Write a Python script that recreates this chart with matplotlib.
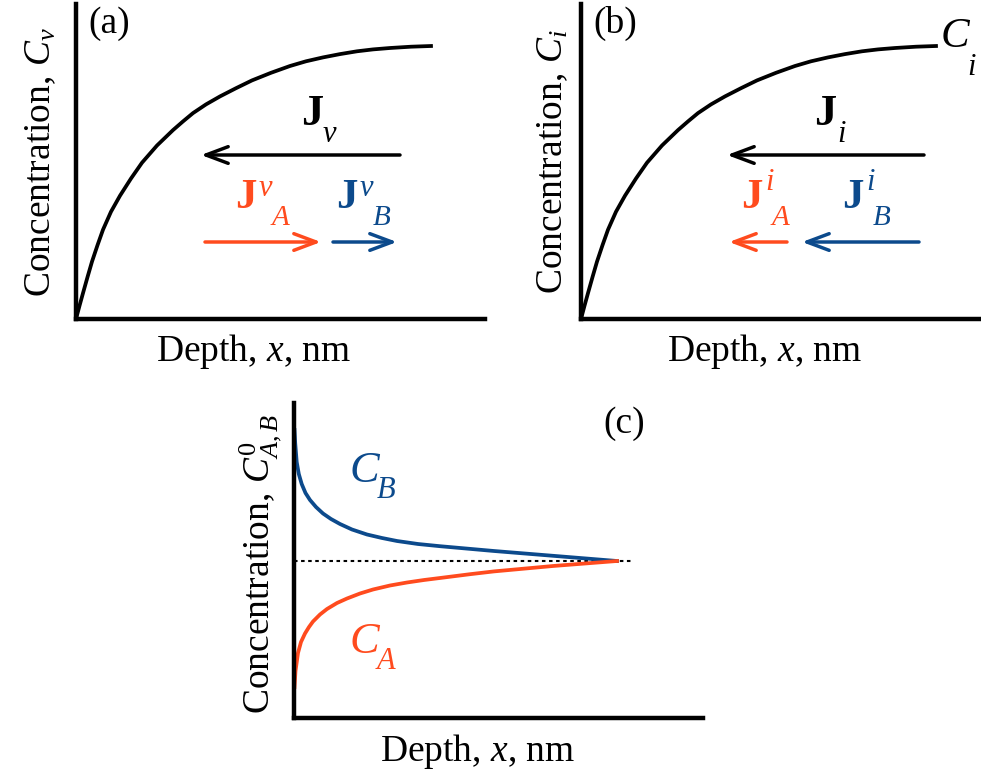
import matplotlib
matplotlib.use("Agg")
import matplotlib.pyplot as plt

plt.rcParams['font.family'] = ['Liberation Serif', 'DejaVu Serif']
plt.rcParams['mathtext.fontset'] = 'custom'
plt.rcParams['mathtext.rm'] = 'Liberation Serif'
plt.rcParams['mathtext.it'] = 'Liberation Serif:italic'
plt.rcParams['mathtext.bf'] = 'Liberation Serif:bold'

# ---- data (schematic, arbitrary units) ----
# panels (a) and (b): saturating concentration profiles
depth_ab = [0, 3.5, 7, 11.5, 16, 21.5, 27, 35, 44, 55, 66, 81, 97, 107, 117, 130,
            144, 160, 176, 195, 214, 230, 247, 264, 281, 297, 314, 335, 355]
conc_v = [0, 13.2, 25.9, 41.9, 57.4, 73.8, 89.3, 107.3, 123.3, 140.5, 156.3, 173.5,
          188.9, 197.6, 205.9, 214.6, 222.6, 230.8, 238.6, 246.2, 253, 257.7, 261.6,
          264.9, 267.7, 269.6, 271, 272.3, 273]
conc_i = [0, 13.2, 25.9, 41.9, 57.4, 73.8, 89.3, 107.3, 123.3, 140.5, 156.3, 173.5,
          188.9, 197.6, 205.9, 214.6, 222.6, 230.8, 238.6, 246.2, 253, 257.7, 261.6,
          264.9, 267.7, 269.6, 271, 272.3, 273]

# panel (c): C_B above and C_A below the initial level C0
depth_b = [0.5, 1.2, 2.7, 4.8, 7.7, 11.5, 16, 22, 29, 37, 46, 58, 73, 88, 103, 124,
           146, 200, 259, 323]
conc_b = [288, 275, 256, 244, 234, 225, 218, 211, 204.5, 199, 194, 188.5, 183.5,
          180, 177, 174, 171.8, 167, 162.2, 157]
depth_a = [0.5, 1.5, 4, 7, 11, 15, 19, 26, 33, 43, 53, 66, 79, 96, 113, 130, 146,
           176, 200, 259, 323]
conc_a = [31, 47, 65, 76, 84.5, 91, 96.5, 103.5, 109, 115, 119.5, 124.5, 128.5,
          132.5, 135.5, 138, 140, 143.8, 146.6, 152, 157]
level_x = [0, 339]
level_y = [157, 157]

# flux arrows: [start, end] depths, and arrow heights
flux_v_x = [324, 125]
flux_va_x = [129, 245]
flux_vb_x = [257, 321]
flux_i_x = [343, 146]
flux_ia_x = [206, 148]
flux_ib_x = [338, 221]
flux_total_y = 164
flux_part_y = 77

RED = '#ff4b1e'
BLUE = '#0c4a8c'
W, H = 981, 772

fig = plt.figure(figsize=(W / 100, H / 100), dpi=100)


def px(x, y):
    return x / W, 1 - y / H


def make_axes(left, bottom):
    ax = fig.add_axes([left / W, 1 - bottom / H, 409 / W, 315 / H])
    ax.set_xlim(0, 409)
    ax.set_ylim(0, 315)
    for s in ['top', 'right']:
        ax.spines[s].set_visible(False)
    for s in ['left', 'bottom']:
        ax.spines[s].set_linewidth(3.2)
        ax.spines[s].set_capstyle('projecting')
    ax.set_xticks([])
    ax.set_yticks([])
    ax.patch.set_alpha(0)
    return ax


def arrow(ax, xs, y, color):
    ax.annotate('', xy=(xs[1], y), xytext=(xs[0], y),
                arrowprops=dict(arrowstyle='->,head_length=0.8,head_width=0.3',
                                lw=2.5, color=color, mutation_scale=20,
                                shrinkA=0, shrinkB=0))


def txt(x, y, s, size, color='black', **kw):
    fig.text(*px(x, y), s, fontsize=size, color=color, ha='left', va='baseline', **kw)


def ylab(x, y, s):
    fig.text(*px(x, y), s, fontsize=27, rotation=90, rotation_mode='anchor',
             ha='center', va='baseline')


def xlab(x, y):
    fig.text(*px(x, y), 'Depth, $x$, nm', fontsize=27, ha='center', va='baseline')


# (a)
ax_a = make_axes(76, 319)
ax_a.plot(depth_ab, conc_v, color='black', lw=2.7, solid_joinstyle='round')
arrow(ax_a, flux_v_x, flux_total_y, 'black')
arrow(ax_a, flux_va_x, flux_part_y, RED)
arrow(ax_a, flux_vb_x, flux_part_y, BLUE)
txt(88, 33, '(a)', 27)
txt(301, 125, 'J', 32, fontweight='bold')
txt(323, 142, 'v', 22, style='italic')
txt(235, 208, 'J', 31, RED, fontweight='bold')
txt(259, 196, 'v', 22, RED, style='italic')
txt(272, 225, 'A', 21, RED, style='italic')
txt(336, 208, 'J', 31, BLUE, fontweight='bold')
txt(360, 196, 'v', 22, BLUE, style='italic')
txt(373, 225, 'B', 21, BLUE, style='italic')
ylab(50, 162, 'Concentration, $C_{v}$')
xlab(254, 361)

# (b)
ax_b = make_axes(581, 319)
ax_b.plot(depth_ab, conc_i, color='black', lw=2.7, solid_joinstyle='round')
arrow(ax_b, flux_i_x, flux_total_y, 'black')
arrow(ax_b, flux_ia_x, flux_part_y, RED)
arrow(ax_b, flux_ib_x, flux_part_y, BLUE)
txt(593, 33, '(b)', 27)
txt(814, 125, 'J', 32, fontweight='bold')
txt(837, 142, 'i', 22, style='italic')
txt(741, 208, 'J', 31, RED, fontweight='bold')
txt(765, 190, 'i', 22, RED, style='italic')
txt(772, 225, 'A', 21, RED, style='italic')
txt(842, 208, 'J', 31, BLUE, fontweight='bold')
txt(866, 190, 'i', 22, BLUE, style='italic')
txt(873, 225, 'B', 21, BLUE, style='italic')
txt(941, 47, 'C', 31, style='italic')
txt(967, 75, 'i', 22, style='italic')
ylab(562, 162, 'Concentration, $C_{i}$')
xlab(765, 361)

# (c)
ax_c = make_axes(294, 718)
ax_c.plot(level_x, level_y, color='black', lw=1.5, linestyle=(0, (1.7, 1.7)))
ax_c.plot(depth_b, conc_b, color=BLUE, lw=2.7, solid_joinstyle='round')
ax_c.plot(depth_a, conc_a, color=RED, lw=2.7, solid_joinstyle='round')
txt(603, 433, '(c)', 27)
txt(350, 482, 'C', 32, BLUE, style='italic')
txt(377, 498, 'B', 22, BLUE, style='italic')
txt(350, 653, 'C', 32, RED, style='italic')
txt(377, 669, 'A', 22, RED, style='italic')
ylab(269, 564, r'Concentration, $C^{\mathit{0}}_{A,B}$')
xlab(478, 761)

fig.savefig('out.png', dpi=100)
